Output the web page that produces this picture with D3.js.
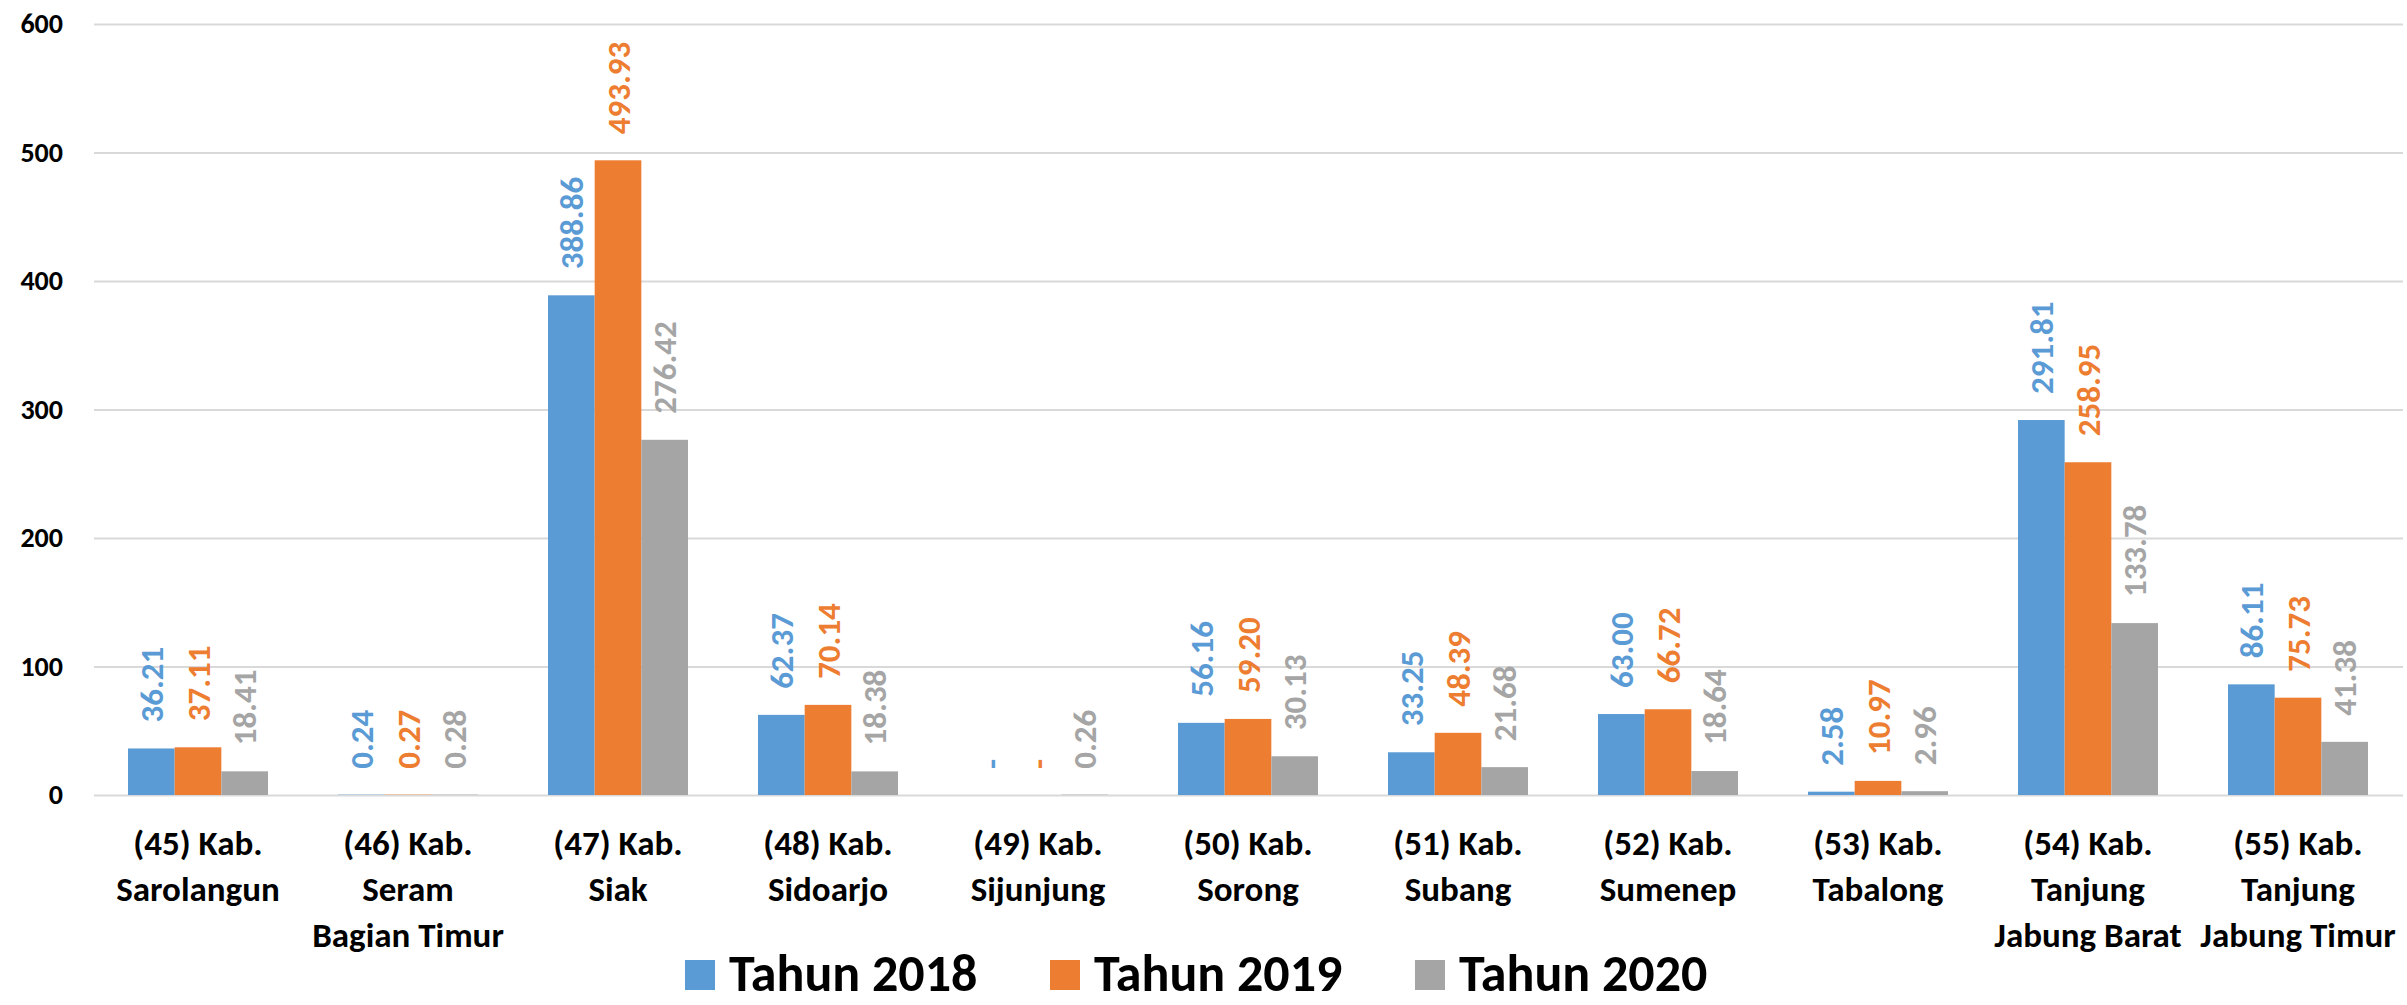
<!DOCTYPE html>
<html>
<head>
<meta charset="utf-8">
<script src="https://cdn.jsdelivr.net/npm/d3@7"></script>
<style>
  body { margin: 0; background: #fff; }
  svg { display: block; font-family: Calibri, Carlito, Lato, sans-serif; font-weight: bold; }
</style>
</head>
<body>
<div id="chart"></div>
<script>
// Kategori (kabupaten), baris dipisah dengan "|"
const categories = [
  "(45) Kab.|Sarolangun",
  "(46) Kab.|Seram|Bagian Timur",
  "(47) Kab.|Siak",
  "(48) Kab.|Sidoarjo",
  "(49) Kab.|Sijunjung",
  "(50) Kab.|Sorong",
  "(51) Kab.|Subang",
  "(52) Kab.|Sumenep",
  "(53) Kab.|Tabalong",
  "(54) Kab.|Tanjung|Jabung Barat",
  "(55) Kab.|Tanjung|Jabung Timur"
];

// Nilai per tahun (null = ditampilkan sebagai "-")
const tahun2018 = [36.21, 0.24, 388.86, 62.37, null, 56.16, 33.25, 63.00, 2.58, 291.81, 86.11];
const tahun2019 = [37.11, 0.27, 493.93, 70.14, null, 59.20, 48.39, 66.72, 10.97, 258.95, 75.73];
const tahun2020 = [18.41, 0.28, 276.42, 18.38, 0.26, 30.13, 21.68, 18.64, 2.96, 133.78, 41.38];

const seriesNames = ["Tahun 2018", "Tahun 2019", "Tahun 2020"];
const seriesColors = ["#5B9BD5", "#ED7D31", "#A5A5A5"];
const yTicks = [0, 100, 200, 300, 400, 500, 600];

const series = [tahun2018, tahun2019, tahun2020];

// Dimensions
const width = 2407, height = 1005;
const plotLeft = 93, plotRight = 2403, plotTop = 24, plotBottom = 795;

const svg = d3.select("#chart")
  .append("svg")
  .attr("width", width)
  .attr("height", height);

const x0 = d3.scaleBand()
  .domain(categories)
  .range([plotLeft, plotRight])
  .padding(0);

const x1 = d3.scaleBand()
  .domain(seriesNames)
  .range([0, x0.bandwidth()])
  .paddingInner(0)
  .paddingOuter(0.75);

const y = d3.scaleLinear()
  .domain([0, 600])
  .range([plotBottom, plotTop]);

// Axe Y + grille
const yAxis = svg.append("g")
  .attr("transform", "translate(" + (plotLeft + 1) + ",0)")
  .call(d3.axisLeft(y).tickValues(yTicks).tickSize(-(plotRight - plotLeft - 1)).tickPadding(31));

yAxis.select(".domain").remove();
yAxis.selectAll(".tick line")
  .attr("stroke", "#D9D9D9")
  .attr("stroke-width", 2);
yAxis.selectAll(".tick text")
  .attr("font-size", 28)
  .attr("font-family", "Calibri, Carlito, Lato, sans-serif")
  .attr("font-weight", "bold")
  .attr("fill", "#000");

// Barres
const groups = svg.append("g")
  .selectAll("g")
  .data(series)
  .join("g")
  .attr("fill", (d, i) => seriesColors[i]);

groups.selectAll("rect")
  .data((d, i) => d.map((v, j) => ({ v: v, cat: categories[j], s: seriesNames[i] })))
  .join("rect")
  .attr("x", d => x0(d.cat) + x1(d.s))
  .attr("y", d => y(d.v || 0))
  .attr("width", x1.bandwidth())
  .attr("height", d => y(0) - y(d.v || 0));

// Etiquettes de valeur (verticales)
const fmt = d3.format(".2f");
groups.selectAll("text")
  .data((d, i) => d.map((v, j) => ({ v: v, cat: categories[j], s: seriesNames[i] })))
  .join("text")
  .attr("transform", d => "translate(" + (x0(d.cat) + x1(d.s) + x1.bandwidth() / 2) + "," + (y(d.v || 0) - 26) + ") rotate(-90)")
  .attr("dy", "0.35em")
  .attr("font-size", 33)
  .text(d => d.v === null ? "-" : fmt(d.v));

// Axe X (libellés sur plusieurs lignes)
const xAxis = svg.append("g")
  .attr("transform", "translate(0," + plotBottom + ")")
  .call(d3.axisBottom(x0).tickSize(0).tickFormat(""));

xAxis.select(".domain").remove();
xAxis.selectAll(".tick text").remove();
xAxis.selectAll(".tick")
  .append("text")
  .attr("fill", "#000")
  .attr("font-size", 35)
  .attr("font-family", "Calibri, Carlito, Lato, sans-serif")
  .attr("font-weight", "bold")
  .attr("text-anchor", "middle")
  .selectAll("tspan")
  .data(d => d.split("|"))
  .join("tspan")
  .attr("x", 0)
  .attr("y", (d, i) => 60 + i * 46)
  .text(d => d);

// Légende
const legend = svg.append("g")
  .attr("transform", "translate(685,960)");

const item = legend.selectAll("g")
  .data(seriesNames)
  .join("g")
  .attr("transform", (d, i) => "translate(" + i * 365 + ",0)");

item.append("rect")
  .attr("width", 30)
  .attr("height", 30)
  .attr("fill", (d, i) => seriesColors[i]);

item.append("text")
  .attr("x", 44)
  .attr("y", 31)
  .attr("font-size", 52)
  .text(d => d);
</script>
</body>
</html>
